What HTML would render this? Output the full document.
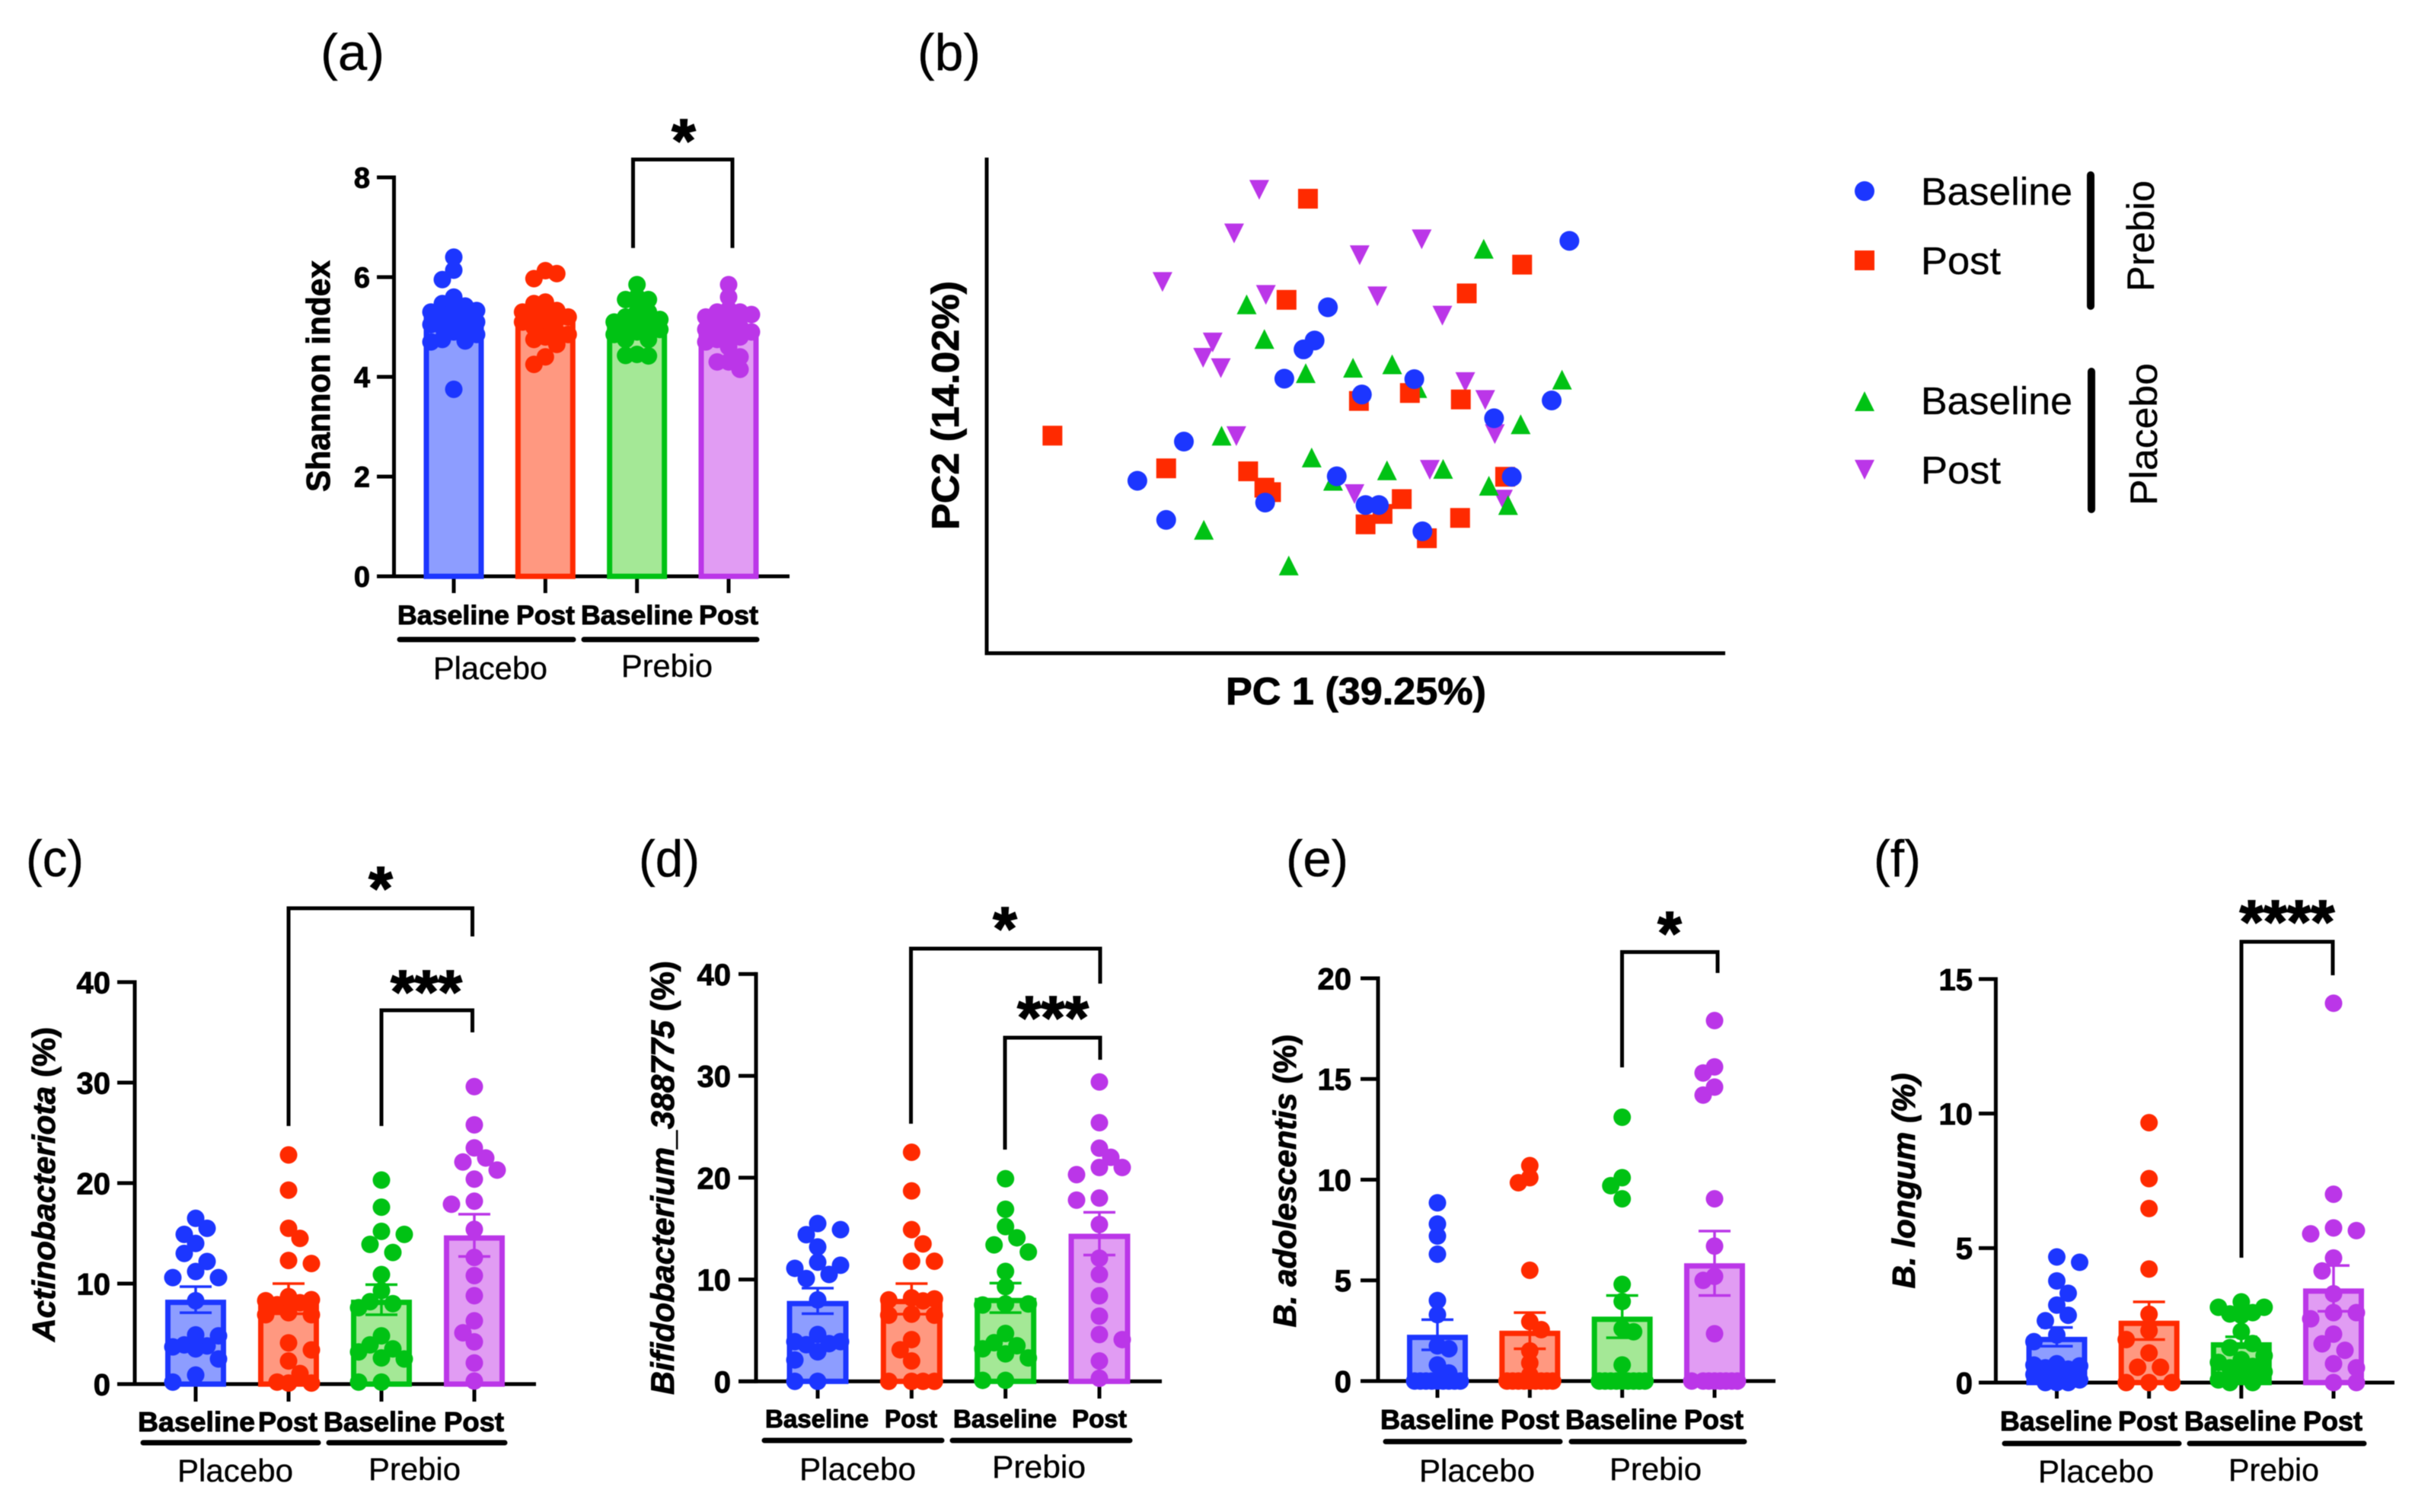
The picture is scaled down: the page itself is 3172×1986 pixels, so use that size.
<!DOCTYPE html>
<html lang="en">
<head>
<meta charset="utf-8">
<title>Shannon index, PCoA and taxa abundance panels</title>
<style>
html,body{margin:0;padding:0;background:#fff;width:3172px;height:1986px;overflow:hidden}
svg{display:block;filter:blur(0.6px)}
text{font-family:"Liberation Sans",Arial,sans-serif;fill:#000}
.bold{font-weight:700;stroke:#000;stroke-width:.9px}
.xl{font-weight:700;stroke:#000;stroke-width:1px}
.stars{font-weight:700;stroke:#000;stroke-width:1.8px}
.reg{stroke:#000;stroke-width:.35px}
</style>
</head>
<body>
<svg id="figure" xmlns="http://www.w3.org/2000/svg" width="3172" height="1986" viewBox="0 0 3172 1986">
<rect width="3172" height="1986" fill="#fff"/>

<!-- panel letters -->
<text class="reg" x="421" y="92" font-size="68" textLength="84" lengthAdjust="spacingAndGlyphs">(a)</text>
<text class="reg" x="1205" y="92" font-size="68" textLength="83" lengthAdjust="spacingAndGlyphs">(b)</text>
<text class="reg" x="34" y="1151" font-size="68" textLength="76" lengthAdjust="spacingAndGlyphs">(c)</text>
<text class="reg" x="839" y="1151" font-size="68" textLength="80" lengthAdjust="spacingAndGlyphs">(d)</text>
<text class="reg" x="1689" y="1151" font-size="68" textLength="82" lengthAdjust="spacingAndGlyphs">(e)</text>
<text class="reg" x="2461" y="1151" font-size="68" textLength="62" lengthAdjust="spacingAndGlyphs">(f)</text>

<!-- axis titles -->
<text class="bold" transform="translate(433,494) rotate(-90)" text-anchor="middle" font-size="44" textLength="304" lengthAdjust="spacingAndGlyphs">Shannon index</text>
<text class="bold" transform="translate(72,1555.5) rotate(-90)" text-anchor="middle" font-size="42" textLength="413" lengthAdjust="spacingAndGlyphs"><tspan font-style="italic">Actinobacteriota</tspan> (%)</text>
<text class="bold" transform="translate(885,1547) rotate(-90)" text-anchor="middle" font-size="43" textLength="570" lengthAdjust="spacingAndGlyphs"><tspan font-style="italic">Bifidobacterium_388775</tspan> (%)</text>
<text class="bold" transform="translate(1702,1551) rotate(-90)" text-anchor="middle" font-size="42" textLength="385" lengthAdjust="spacingAndGlyphs"><tspan font-style="italic">B. adolescentis</tspan> (%)</text>
<text class="bold" transform="translate(2515,1551) rotate(-90)" text-anchor="middle" font-size="42" font-style="italic" textLength="283" lengthAdjust="spacingAndGlyphs">B. longum (%)</text>
<text class="bold" x="1781" y="925" text-anchor="middle" font-size="50" textLength="342" lengthAdjust="spacingAndGlyphs">PC 1 (39.25%)</text>
<text class="bold" transform="translate(1259,532.5) rotate(-90)" text-anchor="middle" font-size="50" textLength="327" lengthAdjust="spacingAndGlyphs">PC2 (14.02%)</text>

<!-- panel a category labels -->
<g>
<text class="xl" x="522" y="820" font-size="35" textLength="147" lengthAdjust="spacingAndGlyphs">Baseline</text>
<text class="xl" x="678" y="820" font-size="35" textLength="77" lengthAdjust="spacingAndGlyphs">Post</text>
<text class="xl" x="763" y="820" font-size="35" textLength="147" lengthAdjust="spacingAndGlyphs">Baseline</text>
<text class="xl" x="918" y="820" font-size="35" textLength="78" lengthAdjust="spacingAndGlyphs">Post</text>
<line x1="525" y1="840" x2="753" y2="840" stroke="#000" stroke-width="7" stroke-linecap="round"/>
<line x1="767" y1="840" x2="994" y2="840" stroke="#000" stroke-width="7" stroke-linecap="round"/>
<text class="reg" x="569" y="892" font-size="42" textLength="150" lengthAdjust="spacingAndGlyphs">Placebo</text>
<text class="reg" x="816" y="889" font-size="42" textLength="120" lengthAdjust="spacingAndGlyphs">Prebio</text>
</g>

<!-- panel c category labels -->
<g>
<text class="xl" x="181" y="1880" font-size="36" textLength="154" lengthAdjust="spacingAndGlyphs">Baseline</text>
<text class="xl" x="339" y="1880" font-size="36" textLength="78" lengthAdjust="spacingAndGlyphs">Post</text>
<text class="xl" x="425" y="1880" font-size="36" textLength="148" lengthAdjust="spacingAndGlyphs">Baseline</text>
<text class="xl" x="583" y="1880" font-size="36" textLength="79" lengthAdjust="spacingAndGlyphs">Post</text>
<line x1="188" y1="1895" x2="418" y2="1895" stroke="#000" stroke-width="7" stroke-linecap="round"/>
<line x1="432" y1="1895" x2="663" y2="1895" stroke="#000" stroke-width="7" stroke-linecap="round"/>
<text class="reg" x="233" y="1946" font-size="42" textLength="152" lengthAdjust="spacingAndGlyphs">Placebo</text>
<text class="reg" x="484" y="1944" font-size="42" textLength="121" lengthAdjust="spacingAndGlyphs">Prebio</text>
</g>

<!-- panel d category labels -->
<g>
<text class="xl" x="1005" y="1875" font-size="33" textLength="136" lengthAdjust="spacingAndGlyphs">Baseline</text>
<text class="xl" x="1162" y="1875" font-size="33" textLength="69" lengthAdjust="spacingAndGlyphs">Post</text>
<text class="xl" x="1252" y="1875" font-size="33" textLength="136" lengthAdjust="spacingAndGlyphs">Baseline</text>
<text class="xl" x="1408" y="1875" font-size="33" textLength="72" lengthAdjust="spacingAndGlyphs">Post</text>
<line x1="1004" y1="1892" x2="1237" y2="1892" stroke="#000" stroke-width="7" stroke-linecap="round"/>
<line x1="1251" y1="1892" x2="1484" y2="1892" stroke="#000" stroke-width="7" stroke-linecap="round"/>
<text class="reg" x="1050" y="1944" font-size="42" textLength="153" lengthAdjust="spacingAndGlyphs">Placebo</text>
<text class="reg" x="1303" y="1941" font-size="42" textLength="123" lengthAdjust="spacingAndGlyphs">Prebio</text>
</g>

<!-- panel e category labels -->
<g>
<text class="xl" x="1813" y="1877" font-size="36" textLength="149" lengthAdjust="spacingAndGlyphs">Baseline</text>
<text class="xl" x="1971" y="1877" font-size="36" textLength="77" lengthAdjust="spacingAndGlyphs">Post</text>
<text class="xl" x="2056" y="1877" font-size="36" textLength="147" lengthAdjust="spacingAndGlyphs">Baseline</text>
<text class="xl" x="2212" y="1877" font-size="36" textLength="78" lengthAdjust="spacingAndGlyphs">Post</text>
<line x1="1820" y1="1893.5" x2="2049" y2="1893.5" stroke="#000" stroke-width="7" stroke-linecap="round"/>
<line x1="2064" y1="1893.5" x2="2291" y2="1893.5" stroke="#000" stroke-width="7" stroke-linecap="round"/>
<text class="reg" x="1864" y="1946" font-size="42" textLength="152" lengthAdjust="spacingAndGlyphs">Placebo</text>
<text class="reg" x="2114" y="1944" font-size="42" textLength="121" lengthAdjust="spacingAndGlyphs">Prebio</text>
</g>

<!-- panel f category labels -->
<g>
<text class="xl" x="2627" y="1879" font-size="36" textLength="147" lengthAdjust="spacingAndGlyphs">Baseline</text>
<text class="xl" x="2782" y="1879" font-size="36" textLength="78" lengthAdjust="spacingAndGlyphs">Post</text>
<text class="xl" x="2869" y="1879" font-size="36" textLength="147" lengthAdjust="spacingAndGlyphs">Baseline</text>
<text class="xl" x="3025" y="1879" font-size="36" textLength="78" lengthAdjust="spacingAndGlyphs">Post</text>
<line x1="2633" y1="1896" x2="2862" y2="1896" stroke="#000" stroke-width="7" stroke-linecap="round"/>
<line x1="2876" y1="1896" x2="3105" y2="1896" stroke="#000" stroke-width="7" stroke-linecap="round"/>
<text class="reg" x="2677" y="1947" font-size="42" textLength="152" lengthAdjust="spacingAndGlyphs">Placebo</text>
<text class="reg" x="2927" y="1945" font-size="42" textLength="119" lengthAdjust="spacingAndGlyphs">Prebio</text>
</g>

<!-- significance brackets -->
<g fill="none" stroke="#000" stroke-width="5">
<path d="M831.5 325.7V209.5H962V325.7"/>
<path d="M379 1479V1193H620.5V1230"/>
<path d="M501 1479V1327H620.5V1356"/>
<path d="M1196.5 1476V1246H1445V1292"/>
<path d="M1320 1510V1363H1445V1392"/>
<path d="M2130.5 1402V1250.5H2256V1278"/>
<path d="M2944 1652V1237H3064V1281"/>
</g>
<g class="stars" font-size="80" text-anchor="middle">
<text x="898" y="212">*</text>
<text x="500" y="1194">*</text>
<text x="560" y="1330">***</text>
<text x="1320" y="1247">*</text>
<text x="1383" y="1364">***</text>
<text x="2193" y="1253">*</text>
<text x="3004" y="1238">****</text>
</g>

<!-- legend for panel b -->
<g>
<circle cx="2449" cy="251" r="13" fill="#1c36ff"/>
<rect x="2436" y="329" width="26" height="26" fill="#ff2a00"/>
<polygon points="2449,514 2462,540 2436,540" fill="#00c214"/>
<polygon points="2436,604 2462,604 2449,630" fill="#bb36e8"/>
<text class="reg" x="2523" y="269" font-size="51" textLength="199" lengthAdjust="spacingAndGlyphs">Baseline</text>
<text class="reg" x="2523" y="360" font-size="51" textLength="105" lengthAdjust="spacingAndGlyphs">Post</text>
<text class="reg" x="2523" y="544" font-size="51" textLength="199" lengthAdjust="spacingAndGlyphs">Baseline</text>
<text class="reg" x="2523" y="635" font-size="51" textLength="105" lengthAdjust="spacingAndGlyphs">Post</text>
<line x1="2746" y1="230" x2="2746" y2="402" stroke="#000" stroke-width="10" stroke-linecap="round"/>
<line x1="2747" y1="488" x2="2747" y2="669" stroke="#000" stroke-width="10" stroke-linecap="round"/>
<text class="reg" transform="translate(2829,310) rotate(-90)" text-anchor="middle" font-size="50" textLength="146" lengthAdjust="spacingAndGlyphs">Prebio</text>
<text class="reg" transform="translate(2833,570.5) rotate(-90)" text-anchor="middle" font-size="50" textLength="187" lengthAdjust="spacingAndGlyphs">Placebo</text>
</g>
</svg>

<script>
// ---- shared categories ----
const categories = ['placebo-baseline', 'placebo-post', 'prebio-baseline', 'prebio-post'];

// ---- panel (a) Shannon index ----
const aTicks = [0, 2, 4, 6, 8];
const aMeans = [5.2, 5.15, 5.05, 4.95];
const aErrors = [0.12, 0.11, 0.09, 0.1];
const aPlaceboBaseline = [6.4, 6.14, 5.95, 5.6, 5.47, 5.42, 5.35, 5.33, 5.3, 5.25, 5.2, 5.15, 5.1, 5.05, 5.0, 4.95, 4.9, 4.85, 4.75, 4.72, 4.7, 3.75];
const aPlaceboPost = [6.13, 6.07, 5.97, 5.5, 5.47, 5.33, 5.3, 5.25, 5.22, 5.2, 5.15, 5.1, 5.05, 5.0, 4.9, 4.85, 4.8, 4.75, 4.65, 4.4, 4.25];
const aPrebioBaseline = [5.85, 5.6, 5.55, 5.55, 5.3, 5.3, 5.2, 5.15, 5.1, 5.1, 5.0, 5.0, 4.95, 4.9, 4.85, 4.75, 4.75, 4.45, 4.43, 4.42];
const aPrebioPost = [5.85, 5.6, 5.35, 5.3, 5.3, 5.25, 5.2, 5.05, 5.0, 5.0, 4.95, 4.9, 4.85, 4.8, 4.75, 4.7, 4.6, 4.4, 4.3, 4.3, 4.15];

// ---- panel (c) Actinobacteriota ----
const cTicks = [0, 10, 20, 30, 40];
const cMeans = [8.4, 8.5, 8.4, 14.8];
const cErrors = [1.3, 1.5, 1.5, 2.1];
const cPlaceboBaseline = [16.5, 15.5, 14.9, 14, 13, 12.2, 11.2, 10.6, 10.6, 8.3, 4.9, 4.8, 3.9, 3.8, 3.7, 3.5, 2.5, 0.9, 0.2];
const cPlaceboPost = [22.8, 19.3, 15.5, 14.5, 12.3, 12, 8.7, 8.4, 8.3, 8.1, 7.9, 7.1, 6.9, 6.9, 4.1, 3.4, 2.3, 1.05, 0.2, 0.1, 0.1];
const cPrebioBaseline = [20.3, 17.6, 15.2, 14.9, 13.9, 13.1, 10.9, 9.3, 8.2, 8.0, 7.6, 4.8, 3.9, 3.5, 3.2, 2.6, 2.5, 0.2, 0.2];
const cPrebioPost = [29.6, 25.8, 23.5, 22.5, 22.1, 21.3, 20.4, 18.2, 17.9, 15.4, 12.6, 10.8, 8.8, 6.3, 5.1, 4.2, 2.1, 0.3];

// ---- panel (d) Bifidobacterium_388775 ----
const dTicks = [0, 10, 20, 30, 40];
const dMeans = [7.9, 8.1, 8.2, 14.5];
const dErrors = [1.25, 1.5, 1.45, 2.1];
const dPlaceboBaseline = [15.5, 14.9, 14.4, 13.2, 11.7, 11.4, 11.1, 10.5, 10.1, 8, 4.6, 3.9, 3.9, 3.7, 3.6, 2.9, 2.1, 0, 0];
const dPlaceboPost = [22.5, 18.7, 14.9, 13.5, 11.8, 11.8, 8.2, 8.1, 8, 7.9, 6.6, 6.5, 6.5, 4.1, 3.1, 2, 0, 0, 0, 0];
const dPrebioBaseline = [19.9, 16.9, 15.2, 14.1, 13.4, 12.7, 10.8, 9.3, 7.6, 7.6, 7.5, 4.7, 3.8, 3.5, 3.2, 2.7, 2.3, 0.1, 0.1];
const dPrebioPost = [29.4, 25.4, 22.9, 22, 21, 21, 20.3, 18, 17.8, 15.4, 12.1, 10.5, 8.4, 6.4, 4.6, 4.1, 2, 0.3];

// ---- panel (e) B. adolescentis ----
const eTicks = [0, 5, 10, 15, 20];
const eMeans = [2.3, 2.5, 3.2, 5.85];
const eErrors = [0.75, 0.9, 1.05, 1.6];
const ePlaceboBaseline = [8.85, 7.8, 7.2, 6.3, 4, 3.3, 1.75, 1.6, 0.8, 0.4, 0, 0, 0, 0, 0, 0, 0, 0, 0];
const ePlaceboPost = [10.7, 10.1, 9.85, 5.5, 2.95, 2.55, 1.5, 0.9, 0.3, 0, 0, 0, 0, 0, 0, 0, 0, 0, 0];
const ePrebioBaseline = [13.1, 10.1, 9.7, 9.05, 4.8, 3.95, 2.6, 2.45, 0.8, 0, 0, 0, 0, 0, 0, 0, 0, 0, 0];
const ePrebioPost = [17.9, 15.6, 15.3, 14.6, 14.2, 9.05, 6.7, 5.2, 5, 2.35, 0, 0, 0, 0, 0, 0, 0, 0];

// ---- panel (f) B. longum ----
const fTicks = [0, 5, 10, 15];
const fMeans = [1.7, 2.3, 1.5, 3.5];
const fErrors = [0.35, 0.7, 0.2, 0.85];
const fPlaceboBaseline = [4.67, 4.47, 3.78, 3.32, 2.88, 2.5, 2.3, 1.77, 1.52, 0.7, 0.65, 0.62, 0.55, 0.5, 0.4, 0.3, 0.1, 0, 0, 0];
const fPlaceboPost = [9.66, 7.58, 6.47, 4.22, 2.54, 1.93, 1.6, 1.1, 0.57, 0.57, 0, 0, 0];
const fPrebioBaseline = [3, 2.8, 2.8, 2.6, 2.55, 2.5, 1.9, 1.45, 1.3, 1, 0.85, 0.75, 0.6, 0.55, 0.4, 0.3, 0.1, 0, 0];
const fPrebioPost = [14.1, 7, 5.75, 5.65, 5.53, 4.63, 4.15, 3.3, 2.6, 2.6, 2.37, 1.8, 1.44, 1.2, 0.7, 0.55, 0, 0];

// ---- panel (b) ordination scores, in percent of the plotted axis range ----
const prebioBaselinePC1 = [78.9, 46.2, 44.4, 42.9, 40.3, 57.9, 50.8, 76.5, 68.7, 26.7, 20.4, 47.4, 37.7, 24.3, 51.3, 53.1, 59.0, 71.1];
const prebioBaselinePC2 = [83.2, 69.8, 63.1, 61.3, 55.4, 55.3, 52.2, 51.0, 47.4, 42.7, 34.8, 35.7, 30.4, 26.9, 29.9, 29.9, 24.6, 35.6];
const prebioPostPC1 = [43.5, 72.5, 65.0, 40.6, 8.9, 57.3, 50.4, 64.2, 24.3, 35.4, 37.6, 38.5, 56.2, 53.6, 51.3, 64.1, 59.6, 70.2];
const prebioPostPC2 = [91.7, 78.4, 72.6, 71.3, 43.9, 52.5, 50.9, 51.2, 37.3, 36.7, 33.4, 32.5, 31.1, 28.1, 26.0, 27.3, 23.2, 35.6];
const placeboBaselinePC1 = [67.3, 35.2, 37.6, 43.2, 49.6, 54.9, 58.3, 77.9, 72.3, 31.8, 44.0, 54.2, 61.8, 46.9, 68.0, 70.6, 29.4, 40.9];
const placeboBaselinePC2 = [81.6, 70.4, 63.4, 56.5, 57.6, 58.3, 53.5, 55.2, 46.2, 43.9, 39.5, 36.9, 37.2, 34.8, 33.8, 29.9, 24.9, 17.7];
const placeboPostPC1 = [36.9, 33.5, 58.9, 50.5, 23.8, 37.8, 52.9, 61.7, 30.6, 29.3, 31.7, 64.8, 67.5, 33.8, 68.8, 60.0, 49.8, 69.9];
const placeboPostPC2 = [93.5, 84.7, 83.5, 80.3, 74.9, 72.3, 72.0, 68.1, 62.7, 59.6, 57.5, 54.7, 51.1, 43.8, 44.2, 37.0, 32.1, 31.0];

// ---- styles ----
const strokeColors = ['#1c36ff', '#ff2a00', '#00c214', '#bb36e8'];
const fillColors = ['#8d9dff', '#ff9880', '#a4e896', '#e19cf3'];
const DOT_R = 11.5;

const svgNS = 'http://www.w3.org/2000/svg';
const root = document.getElementById('figure');

function make(tag, attrs, parent) {
  const el = document.createElementNS(svgNS, tag);
  for (const k in attrs) el.setAttribute(k, attrs[k]);
  parent.appendChild(el);
  return el;
}

// Greedy swarm: places each point on the nearest free horizontal slot.
function swarmOffsets(ys, slotStep, maxSlot, minDist) {
  const placed = [];
  return ys.map((y, i) => {
    const cands = [0];
    for (let s = 1; s <= maxSlot; s++) {
      cands.push(i % 2 ? s : -s, i % 2 ? -s : s);
    }
    let best = 0, bestD = -1;
    for (const c of cands) {
      const dx = c * slotStep;
      let d = Infinity;
      for (const p of placed) d = Math.min(d, Math.hypot(p.x - dx, p.y - y));
      if (d >= minDist) { best = c; bestD = d; break; }
      if (d > bestD) { bestD = d; best = c; }
    }
    const off = best * slotStep;
    placed.push({ x: off, y: y });
    return off;
  });
}

function drawBarPanel(cfg) {
  const g = make('g', {}, root);
  
  

  const yScale = v => cfg.y0 - (v / cfg.yMax) * (cfg.y0 - cfg.yTop);
  const xScale = i => cfg.xFirst + i * (cfg.xLast - cfg.xFirst) / (categories.length - 1);

  // axes
  const yAxis = make('line', { x1: cfg.axisX, x2: cfg.axisX, y1: yScale(cfg.yMax) - 2.5, y2: cfg.y0 + 2.5, stroke: '#000', 'stroke-width': 5 }, g);
  
  
  const xAxis = make('line', { x1: cfg.tickLeft, x2: cfg.axisEnd, y1: cfg.y0, y2: cfg.y0, stroke: '#000', 'stroke-width': 5 }, g);
  
  

  cfg.ticks.forEach(t => {
    const tick = make('line', { x1: cfg.tickLeft, x2: cfg.axisX, y1: yScale(t), y2: yScale(t), stroke: '#000', 'stroke-width': 5 }, g);
    
    
    const label = make('text', { class: 'bold', x: cfg.labelRight, y: yScale(t) + cfg.tickFont * 0.36, 'text-anchor': 'end', 'font-size': cfg.tickFont }, g);
    label.textContent = String(t);
    
    
  });

  categories.forEach((cat, i) => {
    const xc = xScale(i);
    const tick = make('line', { x1: xc, x2: xc, y1: cfg.y0, y2: cfg.tickBottom, stroke: '#000', 'stroke-width': 5 }, g);
    
    
  });

  categories.forEach((cat, i) => {
    const xc = xScale(i);
    const sw = 7;
    const top = yScale(cfg.means[i]);
    const bar = make('rect', {
      x: xc - cfg.barWidth / 2 + sw / 2,
      y: top + sw / 2,
      width: cfg.barWidth - sw,
      height: Math.max(0, cfg.y0 - top - sw / 2),
      fill: fillColors[i], stroke: strokeColors[i], 'stroke-width': sw
    }, g);
    
    

    const hi = yScale(cfg.means[i] + cfg.errors[i]);
    const lo = yScale(cfg.means[i] - cfg.errors[i]);
    const err = make('path', {
      d: 'M' + (xc - 21) + ' ' + hi + 'H' + (xc + 21) + 'M' + xc + ' ' + hi + 'V' + lo + 'M' + (xc - 21) + ' ' + lo + 'H' + (xc + 21),
      fill: 'none', stroke: strokeColors[i], 'stroke-width': 3.5
    }, g);
    
    

    const ys = cfg.points[i].map(yScale);
    const offs = swarmOffsets(ys, cfg.slotStep, cfg.maxSlot, cfg.minDist);
    ys.forEach((y, k) => {
      const dot = make('circle', { cx: xc + offs[k], cy: y, r: DOT_R, fill: strokeColors[i] }, g);
      
      
    });
  });
}

drawBarPanel({ id: 'a', ticks: aTicks, yMax: 8, y0: 757, yTop: 233, axisX: 517.5, tickLeft: 495, axisEnd: 1037, labelRight: 486, tickFont: 38, xFirst: 596, xLast: 957, barWidth: 79, tickBottom: 779, slotStep: 15, maxSlot: 2, minDist: 14, means: aMeans, errors: aErrors, points: [aPlaceboBaseline, aPlaceboPost, aPrebioBaseline, aPrebioPost] });
drawBarPanel({ id: 'c', ticks: cTicks, yMax: 40, y0: 1818, yTop: 1290, axisX: 177, tickLeft: 154, axisEnd: 704, labelRight: 145, tickFont: 40, xFirst: 257, xLast: 623, barWidth: 80, tickBottom: 1841, slotStep: 15, maxSlot: 2, minDist: 19, means: cMeans, errors: cErrors, points: [cPlaceboBaseline, cPlaceboPost, cPrebioBaseline, cPrebioPost] });
drawBarPanel({ id: 'd', ticks: dTicks, yMax: 40, y0: 1814.4, yTop: 1279.4, axisX: 993, tickLeft: 970, axisEnd: 1526, labelRight: 960, tickFont: 40, xFirst: 1074, xLast: 1444, barWidth: 81, tickBottom: 1837, slotStep: 15, maxSlot: 2, minDist: 19, means: dMeans, errors: dErrors, points: [dPlaceboBaseline, dPlaceboPost, dPrebioBaseline, dPrebioPost] });
drawBarPanel({ id: 'e', ticks: eTicks, yMax: 20, y0: 1814, yTop: 1285, axisX: 1810, tickLeft: 1787, axisEnd: 2332, labelRight: 1775, tickFont: 40, xFirst: 1888, xLast: 2252, barWidth: 80, tickBottom: 1836, slotStep: 7.5, maxSlot: 4, minDist: 15, means: eMeans, errors: eErrors, points: [ePlaceboBaseline, ePlaceboPost, ePrebioBaseline, ePrebioPost] });
drawBarPanel({ id: 'f', ticks: fTicks, yMax: 15, y0: 1816, yTop: 1286, axisX: 2621.4, tickLeft: 2599, axisEnd: 3145, labelRight: 2591, tickFont: 40, xFirst: 2701.5, xLast: 3065, barWidth: 80, tickBottom: 1837, slotStep: 15, maxSlot: 2, minDist: 19, means: fMeans, errors: fErrors, points: [fPlaceboBaseline, fPlaceboPost, fPrebioBaseline, fPrebioPost] });

// ---- panel (b) scatter ----
(function drawScatter() {
  const g = make('g', {}, root);
  
  
  const xOf = v => 1296 + (v / 100) * 970;
  const yOf = v => 858 - (v / 100) * 651;
  const S = 13;

  const yAxis = make('line', { x1: 1296, x2: 1296, y1: yOf(100), y2: yOf(0) + 2.5, stroke: '#000', 'stroke-width': 5 }, g);
  
  
  const xAxis = make('line', { x1: 1296, x2: xOf(100), y1: yOf(0), y2: yOf(0), stroke: '#000', 'stroke-width': 5 }, g);
  
  

  placeboPostPC1.forEach((v, i) => {
    const x = xOf(v), y = yOf(placeboPostPC2[i]);
    const m = make('polygon', { points: (x - S) + ',' + (y - S) + ' ' + (x + S) + ',' + (y - S) + ' ' + x + ',' + (y + S), fill: '#bb36e8' }, g);
    
    
  });
  placeboBaselinePC1.forEach((v, i) => {
    const x = xOf(v), y = yOf(placeboBaselinePC2[i]);
    const m = make('polygon', { points: x + ',' + (y - S) + ' ' + (x + S) + ',' + (y + S) + ' ' + (x - S) + ',' + (y + S), fill: '#00c214' }, g);
    
    
  });
  prebioPostPC1.forEach((v, i) => {
    const x = xOf(v), y = yOf(prebioPostPC2[i]);
    const m = make('rect', { x: x - S, y: y - S, width: 2 * S, height: 2 * S, fill: '#ff2a00' }, g);
    
    
  });
  prebioBaselinePC1.forEach((v, i) => {
    const m = make('circle', { cx: xOf(v), cy: yOf(prebioBaselinePC2[i]), r: S, fill: '#1c36ff' }, g);
    
    
  });
})();
</script>
</body>
</html>
